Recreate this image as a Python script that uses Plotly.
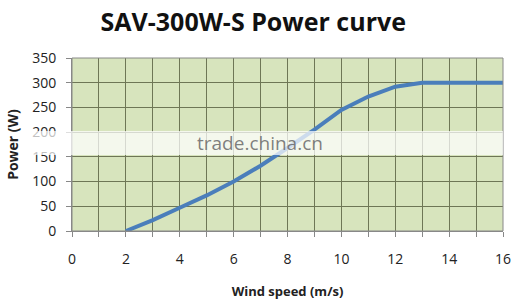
import plotly.graph_objects as go

wind_speed = [2, 3, 4, 5, 6, 7, 8, 9, 10, 11, 12, 13, 14, 15, 16]
power = [0, 22, 47, 72, 100, 132, 168, 205, 245, 272, 292, 300, 300, 300, 300]

grid_col = "#6e7656"
fig = go.Figure()
fig.add_trace(go.Scatter(x=wind_speed, y=power, mode="lines",
                         line=dict(color="#4a7ebb", width=4), showlegend=False))

fig.update_layout(
    width=520, height=302,
    margin=dict(l=72, r=17, t=58, b=71),
    paper_bgcolor="white", plot_bgcolor="#d7e4bd",
    font=dict(family="Open Sans, Lato, sans-serif", size=14, color="#222"),
    title=dict(text="<b>SAV-300W-S Power curve</b>", x=0.487, xanchor="center",
               y=0.925, yanchor="middle", font=dict(size=25, color="#111")),
    xaxis=dict(range=[0, 16], dtick=2, tick0=0, showgrid=True, gridcolor=grid_col,
               gridwidth=1, ticks="outside", ticklen=5, tickcolor="#888",
               ticklabelstandoff=10, automargin=False,
               showline=True, linecolor="#888", zeroline=False,
               minor=dict(dtick=1, showgrid=True, gridcolor=grid_col, ticks="outside",
                          ticklen=5, tickcolor="#888"),
               title=dict(text="<b>Wind speed (m/s)</b>", font=dict(size=13), standoff=20)),
    yaxis=dict(range=[0, 350], dtick=50, showgrid=True, gridcolor=grid_col, gridwidth=1,
               ticks="outside", ticklen=5, tickcolor="#888", showline=True,
               ticklabelstandoff=7, automargin=False,
               linecolor="#888", zeroline=False,
               title=dict(text="<b>Power (W)</b>", font=dict(size=14), standoff=10)),
)
# mirror right/top borders
fig.add_shape(type="rect", xref="paper", yref="paper", x0=0, x1=1, y0=0, y1=1,
              line=dict(color="#888", width=1), fillcolor="rgba(0,0,0,0)")
# watermark band
fig.add_shape(type="rect", xref="paper", yref="paper", x0=-0.14, x1=1.0,
              y0=(231 - 155) / 173, y1=(231 - 131) / 173,
              fillcolor="rgba(255,255,255,0.72)", line=dict(width=0), layer="above")
fig.add_annotation(text="trade.china.cn", xref="paper", yref="paper",
                   x=(260 - 72) / 431, y=(231 - 143) / 173, showarrow=False,
                   font=dict(size=19, color="rgba(105,105,105,0.85)"))
fig.write_html("out.html")
